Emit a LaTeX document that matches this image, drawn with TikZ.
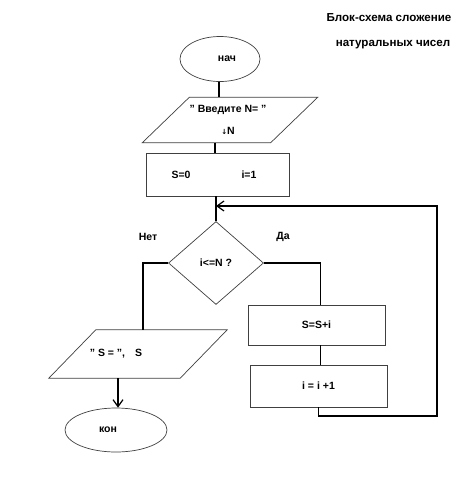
\documentclass[tikz,border=0pt]{standalone}
\usepackage{fontspec}
\setmainfont{Liberation Sans}
\newfontfamily\djv{DejaVu Sans}
\usetikzlibrary{shapes.geometric,arrows.meta}
\begin{document}
\begin{tikzpicture}[x=1pt,y=-1pt,
  edge/.style={draw=black!75,line width=0.7pt},
  outl/.style={edge,inner sep=0pt,font=\bfseries\fontsize{10.5}{12}\selectfont},
  oval/.style={outl,ellipse},
  box/.style={outl,rectangle},
  rhomb/.style={outl,diamond},
  frame/.style={inner sep=0pt,rectangle},
  conn/.style={line width=1.7pt,black},
  tip/.style={-{Straight Barb[length=7pt,width=10pt,line width=1.2pt]}},
  lbl/.style={font=\bfseries\fontsize{10.5}{12}\selectfont,inner sep=0pt},
  ttl/.style={font=\bfseries\fontsize{11.6}{13}\selectfont,inner sep=0pt}]
\fill[white] (0,0) rectangle (474,480);
\useasboundingbox (0,0) rectangle (474,480);
% title
\node[ttl] (t1) at (389,18) {Блок-схема сложение};
\node[ttl] (t2) at (393,45) {натуральных чисел};
% shapes
\node[oval,minimum width=80,minimum height=45] (start) at (220,59) {\hspace*{14pt}нач};
\node[frame,minimum width=175,minimum height=45] (in) at (230,120) {};
\draw[edge] ([xshift=47]in.north west) -- (in.north east) -- ([xshift=-47]in.south east) -- (in.south west) -- cycle;
\node[lbl] (inA) at (228,110) {" Введите N= "};
\node[lbl] (inB) at (228,131) {{\djv\fontsize{7}{7}\selectfont ↓}N};
\node[box,minimum width=143,minimum height=43] (init) at (218,174.5) {};
\node[lbl] (initA) at (181,175) {S=0};
\node[lbl] (initB) at (249,175) {i=1};
\node[rhomb,minimum width=95,minimum height=83] (cond) at (216,263) {i<=N ?};
\node[box,minimum width=137,minimum height=40] (sum) at (316.5,325) {S=S+i};
\node[box,minimum width=137,minimum height=42] (inc) at (318.5,386) {i = i +1};
\node[frame,minimum width=178,minimum height=48] (out) at (138,354) {};
\draw[edge] ([xshift=47]out.north west) -- (out.north east) -- ([xshift=-47]out.south east) -- (out.south west) -- cycle;
\node[lbl] (outA) at (116,354) {" S = ",\hspace{10pt}S};
\node[oval,minimum width=102,minimum height=44] (stop) at (116,430) {\hspace*{-16pt}кон};
\node[lbl] (no) at (148,237) {Нет};
\node[lbl] (yes) at (283,237) {Да};
\coordinate (j) at (216,206);
\coordinate (lc) at (437,416);
% connectors
\draw[conn] ([xshift=-1]start.south) -- ([xshift=-1]start.south |- in.north);
\draw[conn] ([xshift=-3]init.north |- in.south) -- ([xshift=-3]init.north);
\draw[conn] ([xshift=-2]init.south) -- (cond.north);
\draw[conn,tip] (inc.south) |- (lc) -- (lc |- j) -- (j);
\draw[conn] (cond.west) -| ([xshift=5]out.north);
\draw[conn] (cond.east) -| ([xshift=4]sum.north);
\draw[conn] ([xshift=4]sum.south) -- ([xshift=2]inc.north);
\draw[conn,tip] ([xshift=-20]out.south) -- ([xshift=2]stop.north);
\end{tikzpicture}
\end{document}
